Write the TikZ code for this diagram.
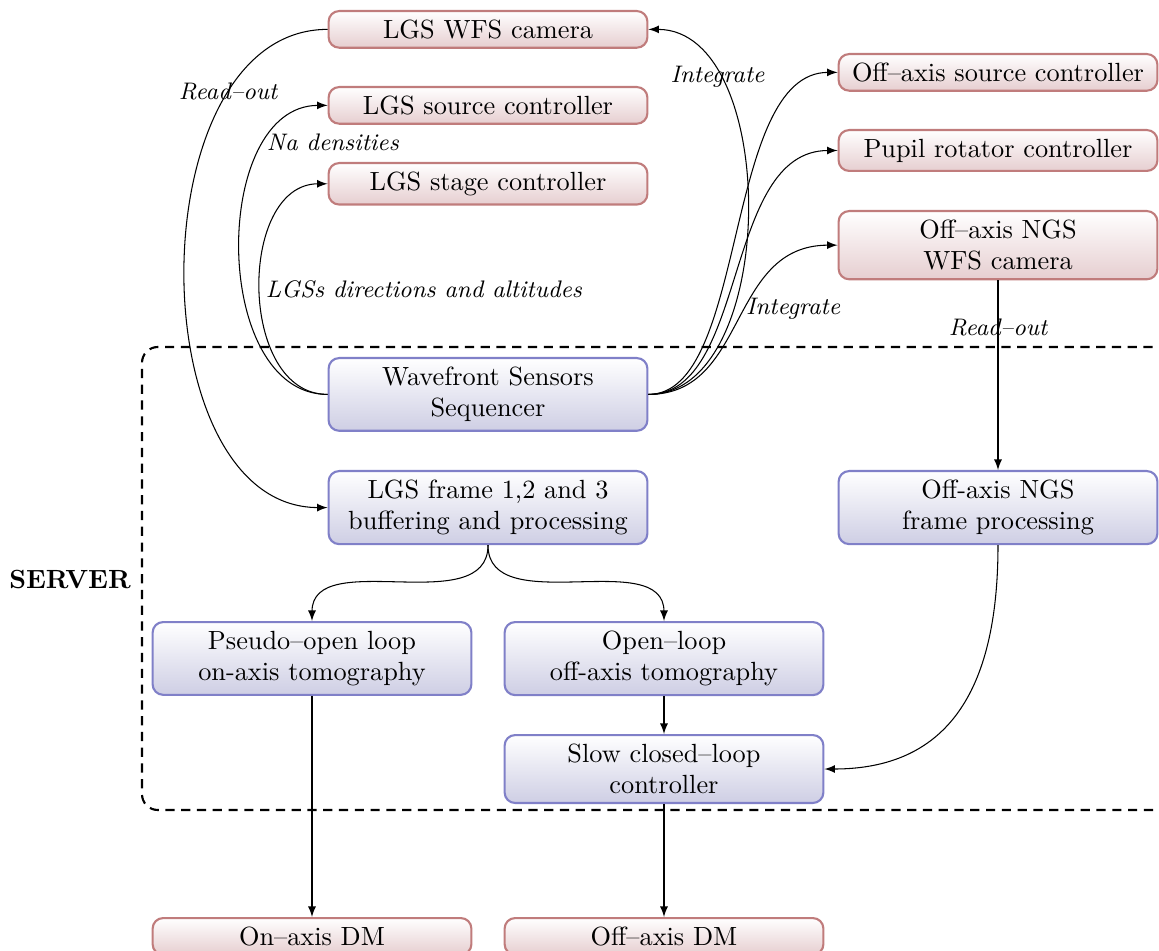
\documentclass[tikz,border=0pt]{standalone}
\usetikzlibrary{arrows}
\definecolor{redline}{RGB}{192,124,124}
\definecolor{redfill}{RGB}{230,206,208}
\definecolor{blueline}{RGB}{128,128,200}
\definecolor{bluefill}{RGB}{206,206,228}
\begin{document}
\begin{tikzpicture}[x=0.3802pt,y=-0.3802pt,
  hw/.style={draw=redline, line width=0.8pt, rounded corners=4pt, top color=white, bottom color=redfill, minimum width=121.2pt, align=center, anchor=north},
  sw/.style={draw=blueline, line width=0.8pt, rounded corners=4pt, top color=white, bottom color=bluefill, minimum width=121.2pt, align=center, anchor=north},
  conn/.style={-latex, thin},
  lab/.style={font=\fontsize{9.1}{11}\selectfont\itshape}]
\useasboundingbox (0,0) rectangle (1159,951);

% dashed server box
\draw[thick, dash pattern=on 3.5pt off 2.5pt, rounded corners=6pt] (1200,347) -| (142,810) -- (1200,810);
\node[font=\bfseries] (server) at (70,579) {SERVER};

% hardware nodes
\node[hw] (lgscam) at (488,10) {LGS WFS camera};
\node[hw] (lgssrc) at (488,86) {LGS source controller};
\node[hw] (lgsstage) at (488,162) {LGS stage controller};
\node[hw] (offsrc) at (998,53) {Off--axis source controller};
\node[hw] (pupil) at (998,129) {Pupil rotator controller};
\node[hw] (ngscam) at (998,210) {Off--axis NGS\\WFS camera};
\node[hw] (ondm) at (312,917) {On--axis DM};
\node[hw] (offdm) at (664,917) {Off--axis DM};

% software nodes
\node[sw] (wss) at (488,357) {Wavefront Sensors\\Sequencer};
\node[sw] (lgsframe) at (488,470) {LGS frame 1,2 and 3\\buffering and processing};
\node[sw] (ngsframe) at (998,470) {Off-axis NGS\\frame processing};
\node[sw] (pseudo) at (312,621) {Pseudo--open loop\\on-axis tomography};
\node[sw] (openloop) at (664,621) {Open--loop\\off-axis tomography};
\node[sw] (slow) at (664,734) {Slow closed--loop\\controller};

% connectors
\draw[conn] (lgscam.west) .. controls +(-190,0) and +(-190,0) .. node[lab,pos=0.225]{Read--out} (lgsframe.west);
\draw[conn] (wss.west) .. controls +(-117,0) and +(-117,0) .. node[lab,pos=0.775,anchor=west,inner sep=0pt]{Na densities} (lgssrc.west);
\draw[conn] (wss.west) .. controls +(-90,0) and +(-90,0) .. node[lab,pos=0.5,anchor=west,inner sep=2pt]{LGSs directions and altitudes} (lgsstage.west);
\draw[conn] (wss.east) .. controls +(132,0) and +(132,0) .. node[lab,pos=0.775]{Integrate} (lgscam.east);
\draw[conn] (wss.east) .. controls +(100,0) and +(-115,0) .. (offsrc.west);
\draw[conn] (wss.east) .. controls +(100,0) and +(-115,0) .. (pupil.west);
\draw[conn] (wss.east) .. controls +(100,0) and +(-110,0) .. node[lab,pos=0.55,anchor=west,inner sep=0pt]{Integrate} (ngscam.west);
\draw[conn] (ngscam.south) -- node[lab,pos=0.25]{Read--out} (ngsframe.north);
\draw[conn] (lgsframe.south) .. controls +(0,75) and +(0,-75) .. (pseudo.north);
\draw[conn] (lgsframe.south) .. controls +(0,75) and +(0,-75) .. (openloop.north);
\draw[conn] (openloop.south) -- (slow.north);
\draw[conn] (ngsframe.south) .. controls +(0,150) and +(120,0) .. (slow.east);
\draw[conn] (pseudo.south) -- (ondm.north);
\draw[conn] (slow.south) -- (offdm.north);
\end{tikzpicture}
\end{document}
